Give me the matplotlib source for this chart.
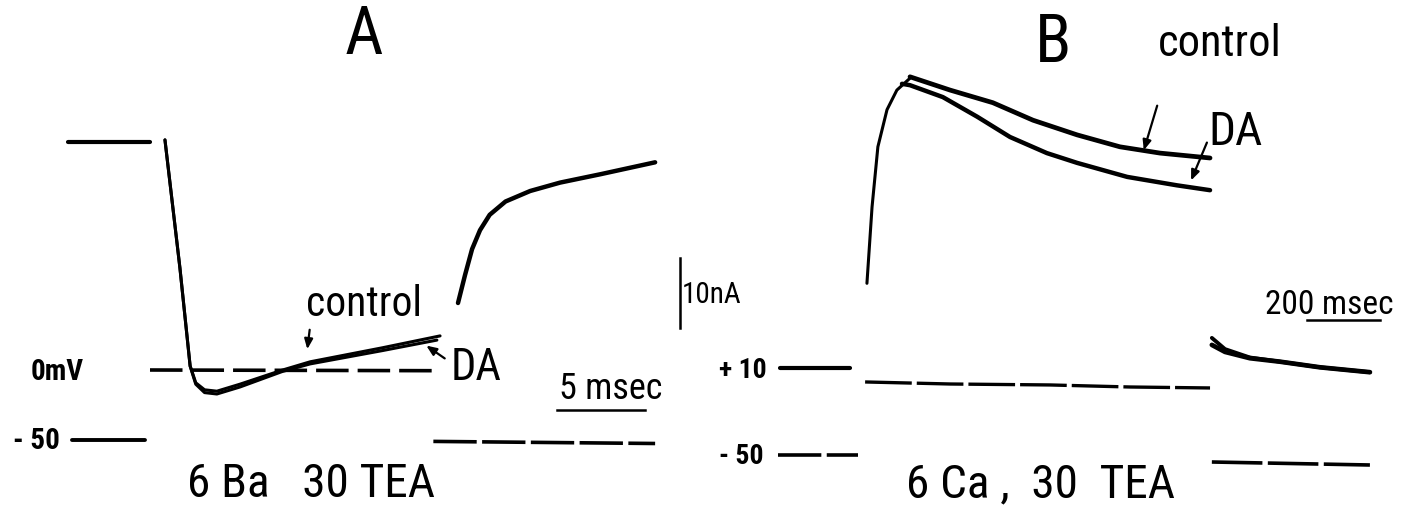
import matplotlib
matplotlib.use("Agg")
import matplotlib.pyplot as plt
from matplotlib import font_manager as fm

# ---------------- data ----------------
# Panel A (6 Ba, 30 TEA): time in msec, current in nA, voltage in mV
a_hold_t = [-4.66, 0.0]
a_hold_i = [0.0, 0.0]
a_ctrl_t = [0.85, 1.7, 2.28, 2.6, 3.1, 3.8, 5.11, 7.5, 9.1, 13.2, 16.48]
a_ctrl_i = [0.3, -18.0, -32.0, -34.4, -35.4, -35.6, -34.6, -32.6, -31.4, -29.4, -27.7]
a_da_t = [0.85, 1.7, 2.28, 2.6, 3.1, 3.8, 5.11, 7.5, 9.1, 13.2, 16.3]
a_da_i = [0.3, -18.0, -32.0, -34.6, -35.8, -36.0, -35.0, -32.8, -31.7, -29.8, -28.3]
a_tail_t = [17.5, 17.9, 18.3, 18.75, 19.3, 20.2, 21.6, 23.3, 25.6, 28.7]
a_tail_i = [-23.0, -19.0, -15.3, -12.6, -10.4, -8.5, -7.0, -5.8, -4.6, -2.9]
a_vpre_t = [-4.43, -0.28]
a_vpre_v = [-50.0, -50.0]
a_vstep_t = [0.0, 16.2]
a_vstep_v = [0.0, -0.5]
a_vpost_t = [16.1, 28.7]
a_vpost_v = [-51.0, -52.5]

# Panel B (6 Ca, 30 TEA): time in msec, current in nA, voltage in mV
b_hold_t = [-219, -27]
b_hold_i = [0.0, 0.0]
b_rise_t = [19, 33, 49, 74, 101, 137]
b_rise_i = [12.1, 23.0, 31.6, 36.9, 39.7, 41.4]
b_ctrl_t = [137, 247, 364, 474, 595, 712, 822, 959]
b_ctrl_i = [41.6, 39.7, 37.9, 35.4, 33.3, 31.6, 30.7, 30.0]
b_da_t = [115, 137, 227, 321, 411, 512, 595, 732, 868, 959]
b_da_i = [40.6, 40.4, 38.7, 35.9, 33.0, 30.7, 29.3, 27.3, 26.1, 25.4]
b_tail_t = [964, 1000, 1068, 1151, 1260, 1397]
b_tail_i = [3.3, 2.3, 1.4, 0.9, 0.1, -0.6]
b_tail2_i = [4.3, 2.7, 1.5, 0.9, 0.1, -0.6]
b_vpre_t = [-225, -5]
b_vpre_v = [-49.0, -49.0]
b_vstep_t = [14, 247, 521, 740, 959]
b_vstep_v = [11.7, 10.0, 9.2, 7.5, 6.7]
b_vpost_t = [964, 1397]
b_vpost_v = [-55.0, -57.5]

# ---------------- figure ----------------
W, H = 1403, 505
fig = plt.figure(figsize=(W / 100, H / 100), dpi=100)
fig.patch.set_facecolor("white")

names = {f.name for f in fm.fontManager.ttflist}
prefs = ["Roboto Condensed", "Archivo Narrow", "PT Sans Narrow", "Liberation Sans Narrow",
         "Fira Sans Condensed", "IBM Plex Sans Condensed", "Encode Sans Condensed",
         "Open Sans Condensed", "Pragati Narrow", "DejaVu Sans"]
FONT = next(p for p in prefs if p in names)
plt.rcParams["font.family"] = [FONT, "DejaVu Sans"]


def panel_axes(x0, sx, y0, sy):
    """axes covering the figure; data origin at pixel (x0, y0 from top), sx/sy pixels per unit"""
    ax = fig.add_axes([0, 0, 1, 1])
    ax.set_xlim(-x0 / sx, (W - x0) / sx)
    ax.set_ylim((y0 - H) / sy, y0 / sy)
    ax.axis("off")
    ax.patch.set_alpha(0)
    return ax


# overlay for text (pixel coords, y from top)
ov = fig.add_axes([0, 0, 1, 1])
ov.set_xlim(0, W)
ov.set_ylim(H, 0)
ov.axis("off")
ov.patch.set_alpha(0)

k = "black"
rc = dict(solid_capstyle="round", solid_joinstyle="round")
# Panel A
aI = panel_axes(150, 17.6, 142, 7.0)
aV = panel_axes(150, 17.6, 370, 1.4)
aI.plot(a_hold_t, a_hold_i, color=k, lw=3.0, **rc)
aI.plot(a_ctrl_t, a_ctrl_i, color=k, lw=2.2, **rc)
aI.plot(a_da_t, a_da_i, color=k, lw=2.2, **rc)
aI.plot(a_tail_t, a_tail_i, color=k, lw=3.2, **rc)
aV.plot(a_vpre_t, a_vpre_v, color=k, lw=2.8, **rc)
aV.plot(a_vstep_t, a_vstep_v, color=k, lw=2.6, ls=(0, (9, 2.5)))
aV.plot(a_vpost_t, a_vpost_v, color=k, lw=2.6, ls=(0, (12, 1.5)))

# Panel B
bI = panel_axes(860, 0.365, 368, 7.0)
bV = panel_axes(860, 0.365, 396, 1.2)
bI.plot(b_hold_t, b_hold_i, color=k, lw=3.0, **rc)
bI.plot(b_rise_t, b_rise_i, color=k, lw=2.2, **rc)
bI.plot(b_ctrl_t, b_ctrl_i, color=k, lw=3.4, **rc)
bI.plot(b_da_t, b_da_i, color=k, lw=3.2, **rc)
bI.plot(b_tail_t, b_tail_i, color=k, lw=3.4, **rc)
bI.plot(b_tail_t, b_tail2_i, color=k, lw=2.8, **rc)
bV.plot(b_vpre_t, b_vpre_v, color=k, lw=2.6, ls=(0, (12, 1.5)))
bV.plot(b_vstep_t, b_vstep_v, color=k, lw=2.4, ls=(0, (14, 1.5)))
bV.plot(b_vpost_t, b_vpost_v, color=k, lw=2.6, ls=(0, (14, 1.5)))

# ---------------- text & scale bars ----------------
def txt(x, y, s, size, **kw):
    ov.text(x, y, s, fontsize=size, ha=kw.pop("ha", "center"), va=kw.pop("va", "center"),
            color=k, **kw)

txt(364, 36, "A", 48)
txt(1053, 44, "B", 48)
txt(364, 304, "control", 30)
txt(476, 368, "DA", 32)
txt(57, 372, "0mV", 21, fontweight="bold")
txt(36, 441, "- 50", 21, fontweight="bold")
txt(611, 389, "5 msec", 26)
txt(311, 484, "6 Ba   30 TEA", 34)
txt(712, 295, "10nA", 21)
txt(1329, 305, "200 msec", 24)
txt(743, 371, "+ 10", 20, fontweight="bold")
txt(741, 456, "- 50", 20, fontweight="bold")
txt(1040, 484, "6 Ca ,  30  TEA", 34)
txt(1220, 44, "control", 32)
txt(1236, 132, "DA", 34)

ov.plot([557, 645], [410, 410], color=k, lw=1.8)
ov.plot([1307, 1380], [320, 320], color=k, lw=1.8)
ov.plot([680, 680], [258, 328], color=k, lw=1.8)

arrow = dict(arrowstyle="-|>,head_length=0.6,head_width=0.25", color=k, lw=1.6)
ov.annotate("", xy=(307, 352), xytext=(310, 327), arrowprops=arrow)
ov.annotate("", xy=(424, 344), xytext=(447, 360), arrowprops=arrow)
ov.annotate("", xy=(1143, 153), xytext=(1158, 103), arrowprops=arrow)
ov.annotate("", xy=(1190, 183), xytext=(1208, 140), arrowprops=arrow)

fig.savefig("out.png", dpi=100, facecolor="white")
